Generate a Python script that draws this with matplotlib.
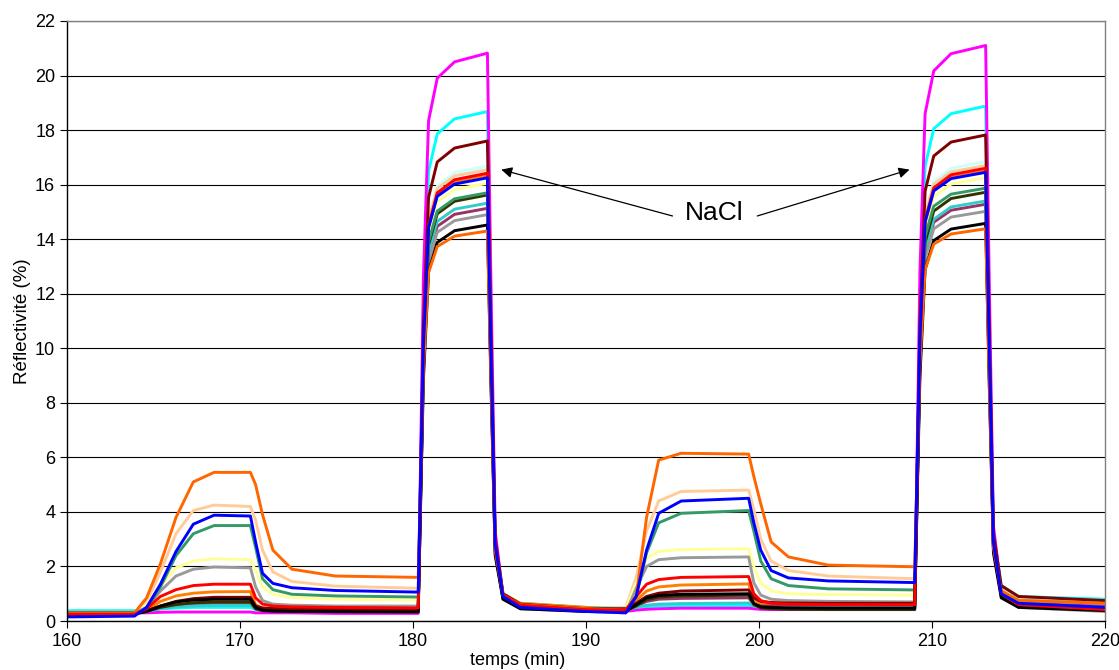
import matplotlib
matplotlib.use("Agg")
import matplotlib.pyplot as plt

plt.rcParams["font.family"] = ["Liberation Sans", "DejaVu Sans"]

# sampling times (min), shared by every curve
temps = [160, 163.9, 164.6, 165.4, 166.3, 167.3, 168.5, 170.6, 170.9, 171.3, 171.9, 173.0, 175.5, 180.3,
         180.6, 180.9, 181.4, 182.4, 184.3, 184.5, 184.75, 185.2, 186.2, 190.0,
         192.3, 192.9, 193.5, 194.2, 195.5, 199.4, 199.7, 200.1, 200.7, 201.7, 204.0, 209.0,
         209.3, 209.6, 210.1, 211.1, 213.1, 213.3, 213.55, 214.0, 215.0, 220]

# reflectivity (%), one list per spot
magenta = [0.3, 0.3, 0.3, 0.32, 0.33, 0.33, 0.33, 0.33, 0.3, 0.3, 0.3, 0.3, 0.28, 0.28,
           12.6, 18.35, 19.9, 20.5, 20.82, 12.6, 3.3, 0.9, 0.55, 0.4,
           0.35, 0.4, 0.43, 0.45, 0.47, 0.47, 0.45, 0.43, 0.42, 0.42, 0.42, 0.42,
           12.8, 18.6, 20.17, 20.8, 21.1, 12.8, 3.5, 1.1, 0.7, 0.55]
cyan = [0.38, 0.38, 0.4, 0.45, 0.48, 0.5, 0.5, 0.5, 0.42, 0.4, 0.4, 0.4, 0.4, 0.4,
        11.37, 16.49, 17.86, 18.41, 18.68, 11.4, 3.1, 1.0, 0.65, 0.5,
        0.45, 0.5, 0.53, 0.55, 0.57, 0.57, 0.55, 0.55, 0.55, 0.55, 0.55, 0.55,
        11.55, 16.68, 18.05, 18.6, 18.88, 11.55, 3.3, 1.3, 0.9, 0.8]
maroon = [0.3, 0.3, 0.38, 0.55, 0.72, 0.82, 0.87, 0.87, 0.55, 0.48, 0.46, 0.45, 0.45, 0.45,
          10.74, 15.54, 16.83, 17.34, 17.6, 10.74, 3.0, 1.0, 0.62, 0.45,
          0.45, 0.65, 0.9, 1.02, 1.1, 1.14, 0.85, 0.72, 0.68, 0.66, 0.65, 0.65,
          10.95, 15.76, 17.05, 17.56, 17.82, 10.95, 3.2, 1.3, 0.9, 0.75]
light_cyan = [0.35, 0.35, 0.38, 0.43, 0.47, 0.5, 0.5, 0.5, 0.43, 0.42, 0.42, 0.42, 0.42, 0.42,
              10.18, 14.73, 15.95, 16.44, 16.68, 10.2, 2.9, 1.0, 0.62, 0.48,
              0.45, 0.5, 0.55, 0.58, 0.6, 0.6, 0.56, 0.55, 0.55, 0.55, 0.55, 0.55,
              10.32, 14.89, 16.11, 16.6, 16.84, 10.3, 3.0, 1.2, 0.85, 0.72]
peach = [0.3, 0.3, 0.7, 1.8, 3.2, 4.05, 4.25, 4.2, 3.7, 2.6, 1.8, 1.45, 1.28, 1.2,
         10.41, 14.71, 15.86, 16.32, 16.55, 10.4, 2.9, 1.0, 0.62, 0.48,
         0.5, 1.6, 3.3, 4.4, 4.75, 4.8, 4.1, 3.0, 2.2, 1.85, 1.65, 1.55,
         10.64, 14.88, 16.02, 16.47, 16.7, 10.6, 3.0, 1.2, 0.85, 0.7]
red = [0.25, 0.25, 0.45, 0.9, 1.15, 1.3, 1.35, 1.35, 0.85, 0.62, 0.55, 0.52, 0.5, 0.48,
       10.04, 14.51, 15.7, 16.18, 16.42, 10.0, 2.8, 0.95, 0.58, 0.42,
       0.4, 0.9, 1.35, 1.52, 1.6, 1.63, 1.0, 0.75, 0.65, 0.62, 0.6, 0.6,
       10.2, 14.68, 15.88, 16.36, 16.6, 10.2, 2.9, 1.0, 0.6, 0.42]
blue = [0.15, 0.18, 0.5, 1.35, 2.55, 3.55, 3.88, 3.85, 2.9, 1.75, 1.38, 1.22, 1.12, 1.06,
        10.17, 14.43, 15.57, 16.02, 16.25, 10.1, 2.8, 0.9, 0.5, 0.35,
        0.3, 0.9, 2.6, 3.95, 4.4, 4.5, 3.6, 2.6, 1.85, 1.58, 1.47, 1.41,
        10.43, 14.65, 15.77, 16.22, 16.45, 10.4, 2.9, 1.0, 0.65, 0.5]
yellow = [0.3, 0.3, 0.6, 1.3, 1.95, 2.2, 2.28, 2.25, 1.85, 1.25, 0.98, 0.86, 0.8, 0.77,
          9.94, 14.22, 15.36, 15.82, 16.05, 9.9, 2.8, 0.95, 0.58, 0.45,
          0.45, 1.4, 2.3, 2.55, 2.62, 2.65, 2.0, 1.4, 1.1, 1.0, 0.97, 0.95,
          10.13, 14.41, 15.56, 16.02, 16.25, 10.1, 2.9, 1.1, 0.7, 0.55]
sea_green = [0.25, 0.25, 0.45, 1.25, 2.4, 3.2, 3.5, 3.5, 2.7, 1.55, 1.15, 0.98, 0.92, 0.88,
             9.77, 13.92, 15.03, 15.48, 15.7, 9.8, 2.7, 0.9, 0.55, 0.42,
             0.4, 0.9, 2.5, 3.6, 3.95, 4.05, 3.3, 2.2, 1.55, 1.3, 1.18, 1.14,
             9.98, 14.1, 15.21, 15.65, 15.87, 10.0, 2.8, 1.0, 0.65, 0.5]
olive = [0.28, 0.28, 0.35, 0.5, 0.6, 0.67, 0.7, 0.7, 0.45, 0.38, 0.36, 0.35, 0.35, 0.35,
         9.51, 13.79, 14.93, 15.39, 15.62, 9.5, 2.6, 0.85, 0.5, 0.38,
         0.38, 0.55, 0.78, 0.88, 0.92, 0.95, 0.6, 0.48, 0.45, 0.43, 0.42, 0.42,
         9.6, 13.88, 15.03, 15.49, 15.72, 9.6, 2.7, 0.95, 0.6, 0.45]
aqua = [0.3, 0.3, 0.35, 0.45, 0.52, 0.55, 0.57, 0.57, 0.45, 0.4, 0.39, 0.38, 0.38, 0.38,
        9.34, 13.53, 14.65, 15.1, 15.32, 9.3, 2.6, 0.9, 0.55, 0.45,
        0.4, 0.5, 0.58, 0.62, 0.64, 0.66, 0.55, 0.5, 0.49, 0.48, 0.48, 0.48,
        9.43, 13.61, 14.73, 15.18, 15.4, 9.4, 2.7, 1.1, 0.75, 0.65]
plum = [0.3, 0.3, 0.36, 0.5, 0.58, 0.63, 0.65, 0.65, 0.45, 0.42, 0.41, 0.4, 0.4, 0.4,
        9.24, 13.36, 14.47, 14.91, 15.13, 9.2, 2.5, 0.85, 0.52, 0.4,
        0.38, 0.55, 0.72, 0.8, 0.83, 0.85, 0.6, 0.55, 0.55, 0.55, 0.55, 0.55,
        9.39, 13.51, 14.62, 15.06, 15.28, 9.4, 2.7, 1.0, 0.65, 0.5]
gray = [0.3, 0.3, 0.5, 1.1, 1.65, 1.9, 1.98, 1.95, 1.25, 0.75, 0.62, 0.58, 0.55, 0.55,
        9.16, 13.18, 14.25, 14.68, 14.9, 9.1, 2.5, 0.8, 0.45, 0.35,
        0.3, 1.2, 2.0, 2.25, 2.32, 2.35, 1.4, 0.95, 0.8, 0.75, 0.72, 0.7,
        9.29, 13.3, 14.38, 14.81, 15.02, 9.3, 2.6, 0.9, 0.5, 0.35]
black = [0.25, 0.25, 0.35, 0.55, 0.7, 0.77, 0.8, 0.8, 0.5, 0.4, 0.37, 0.35, 0.34, 0.33,
         8.84, 12.82, 13.88, 14.31, 14.52, 8.8, 2.4, 0.8, 0.45, 0.35,
         0.35, 0.6, 0.85, 0.94, 0.98, 1.0, 0.65, 0.52, 0.5, 0.48, 0.47, 0.47,
         8.94, 12.89, 13.95, 14.37, 14.58, 8.9, 2.5, 0.85, 0.5, 0.38]
orange = [0.3, 0.3, 0.85, 2.1, 3.8, 5.1, 5.45, 5.45, 5.0, 3.9, 2.6, 1.9, 1.65, 1.6,
          9.22, 12.78, 13.73, 14.11, 14.3, 9.0, 2.6, 0.95, 0.6, 0.45,
          0.4, 0.9, 3.8, 5.9, 6.15, 6.12, 5.3, 4.3, 2.9, 2.35, 2.05, 1.99,
          9.42, 12.89, 13.82, 14.19, 14.38, 9.0, 2.7, 1.1, 0.75, 0.65]
light_orange = [0.28, 0.28, 0.4, 0.72, 0.92, 1.02, 1.07, 1.08, 0.6, 0.47, 0.44, 0.43, 0.42, 0.4,
                9.97, 14.44, 15.63, 16.11, 16.35, 10.0, 2.8, 1.0, 0.65, 0.5,
                0.4, 0.75, 1.1, 1.25, 1.32, 1.36, 0.8, 0.62, 0.58, 0.57, 0.56, 0.55,
                10.12, 14.59, 15.78, 16.26, 16.5, 10.1, 2.9, 1.1, 0.75, 0.65]

series = [
    (light_cyan, "#CCFFFF"), (peach, "#FFCC99"), (yellow, "#FFFF99"), (cyan, "#00FFFF"),
    (magenta, "#FF00FF"), (light_orange, "#FF8000"), (plum, "#993366"), (aqua, "#33CCCC"),
    (gray, "#999999"), (olive, "#333300"), (sea_green, "#339966"), (maroon, "#800000"),
    (black, "#000000"), (orange, "#FF6600"), (red, "#FF0000"), (blue, "#0000FF"),
]

fig = plt.figure(figsize=(11.19, 6.70), dpi=100)
ax = fig.add_axes([0.0599, 0.0731, 0.9276, 0.8956])

for vals, col in series:
    ax.plot(temps, vals, color=col, lw=2.1, solid_joinstyle="round")

ax.set_xlim(160, 220)
ax.set_ylim(0, 22)
ax.set_xticks(range(160, 221, 10))
ax.set_yticks(range(0, 23, 2))
ax.yaxis.grid(True, color="black", lw=0.8)
ax.set_axisbelow(True)
ax.tick_params(labelsize=13, direction="out", length=5, width=0.8)
for s in ["left", "bottom"]:
    ax.spines[s].set_color("black")
    ax.spines[s].set_linewidth(1.0)
for s in ["top", "right"]:
    ax.spines[s].set_color("#808080")
    ax.spines[s].set_linewidth(1.0)

ax.set_ylabel("Réflectivité (%)", fontsize=13.5, labelpad=3)
fig.text(518 / 1119, 1 - 652 / 670, "temps (min)", fontsize=13, ha="center", va="top")

# NaCl label with its two arrows
ax.text(197.4, 14.96, "NaCl", fontsize=19, ha="center", va="center")
arrow = dict(arrowstyle="-|>", color="black", lw=0.9, mutation_scale=16, shrinkA=0, shrinkB=0)
ax.annotate("", xy=(185.1, 16.55), xytext=(195.0, 14.85), arrowprops=arrow)
ax.annotate("", xy=(208.7, 16.55), xytext=(199.9, 14.85), arrowprops=arrow)

fig.savefig("out.png", dpi=100)
